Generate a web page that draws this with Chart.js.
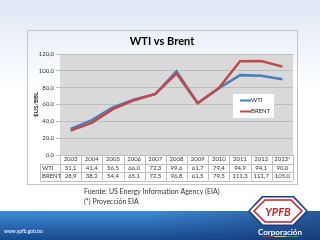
<!DOCTYPE html>
<html>
<head>
<meta charset="utf-8">
<script src="https://cdn.jsdelivr.net/npm/chart.js@4/dist/chart.umd.min.js"></script>
<style>
  html, body { margin: 0; padding: 0; background: #fff; }
  #wrap { width: 320px; height: 240px; position: relative; }
</style>
</head>
<body>
<div id="wrap"><canvas id="graph" width="320" height="240"></canvas></div>
<script>
const years = ["2003","2004","2005","2006","2007","2008","2009","2010","2011","2012","2013*"]
const wti = [31.1, 41.4, 56.5, 66.0, 72.3, 99.6, 61.7, 79.4, 94.9, 94.1, 90.0]
const brent = [28.9, 38.2, 54.4, 65.1, 72.5, 96.8, 61.5, 79.5, 111.3, 111.7, 105.0]
const yTicks = [0, 20, 40, 60, 80, 100, 120]

const FONT = "Lato, 'Open Sans', sans-serif"
const fmt = v => v.toFixed(1).replace('.', ',')

// fond de la diapo + bandeau du bas
const slide = {
    id: 'slide',
    beforeDraw(chart){
        const ctx = chart.ctx
        ctx.save()
        let g = ctx.createLinearGradient(0, 0, 0, 90)
        g.addColorStop(0, '#dde8f4')
        g.addColorStop(1, '#ffffff')
        ctx.fillStyle = g
        ctx.fillRect(0, 0, 320, 211)

        g = ctx.createLinearGradient(0, 211, 0, 240)
        g.addColorStop(0, '#3f8ad4')
        g.addColorStop(1, '#17498f')
        ctx.fillStyle = g
        ctx.fillRect(0, 211, 320, 29)
        g = ctx.createLinearGradient(150, 0, 320, 0)
        g.addColorStop(0, 'rgba(20,50,110,0)')
        g.addColorStop(1, 'rgba(20,50,110,0.55)')
        ctx.fillStyle = g
        ctx.fillRect(150, 211, 170, 29)

        // cadre du graphique
        ctx.strokeStyle = '#c6c6c6'
        ctx.lineWidth = 1
        ctx.strokeRect(27.5, 30.5, 270, 154)

        // zone de tracé
        const a = chart.chartArea
        ctx.fillStyle = '#d9d9d9'
        ctx.fillRect(a.left, a.top, a.right - a.left, a.bottom - a.top)
        ctx.restore()
    },
    afterDraw(chart){
        const ctx = chart.ctx
        const x = chart.scales.x
        const a = chart.chartArea
        ctx.save()

        // titre
        ctx.fillStyle = '#000'
        ctx.font = "bold 11px " + FONT
        ctx.textAlign = 'center'
        ctx.textBaseline = 'middle'
        ctx.fillText('WTI vs Brent', 162, 41)

        // légende
        ctx.fillStyle = '#fff'
        ctx.fillRect(233, 94, 41, 24)
        const leg = [['WTI', '#4a7ebb', 100.5], ['BRENT', '#be4b48', 111.5]]
        ctx.font = "6px " + FONT
        ctx.textAlign = 'left'
        leg.forEach(([t, c, y]) => {
            ctx.strokeStyle = c
            ctx.lineWidth = 2
            ctx.beginPath(); ctx.moveTo(240, y); ctx.lineTo(251, y); ctx.stroke()
            ctx.fillStyle = '#222'
            ctx.fillText(t, 251, y)
        })

        // tableau de données
        const colW = (a.right - a.left) / years.length
        const rows = [a.bottom, 163.5, 172, 180.5]
        ctx.strokeStyle = '#bfbfbf'
        ctx.lineWidth = 1
        ctx.beginPath()
        for (let i = 0; i <= years.length; i++){
            const cx = Math.round(a.left + i * colW) + 0.5
            ctx.moveTo(cx, rows[0]); ctx.lineTo(cx, rows[3])
        }
        ctx.moveTo(40.5, rows[1]); ctx.lineTo(40.5, rows[3])
        ctx.moveTo(a.left, rows[0] + 0.5); ctx.lineTo(a.right, rows[0] + 0.5)
        for (let r = 1; r < 4; r++){
            ctx.moveTo(40, Math.round(rows[r]) + 0.5); ctx.lineTo(a.right, Math.round(rows[r]) + 0.5)
        }
        ctx.stroke()

        ctx.fillStyle = '#333'
        ctx.font = "6px " + FONT
        ctx.textAlign = 'center'
        years.forEach((yr, i) => {
            const cx = x.getPixelForValue(i)
            ctx.fillText(yr, cx, (rows[0] + rows[1]) / 2)
            ctx.fillText(fmt(wti[i]), cx, (rows[1] + rows[2]) / 2)
            ctx.fillText(fmt(brent[i]), cx, (rows[2] + rows[3]) / 2)
        })
        ctx.textAlign = 'left'
        ctx.fillText('WTI', 42, (rows[1] + rows[2]) / 2)
        ctx.fillText('BRENT', 42, (rows[2] + rows[3]) / 2)

        // sources
        ctx.fillStyle = '#333'
        ctx.font = "7px " + FONT
        ctx.fillText('Fuente: US Energy Information Agency (EIA)', 84, 192)
        ctx.fillText('(*) Proyección EIA', 84, 202)

        // pied de page
        ctx.fillStyle = '#fff'
        ctx.font = "5px " + FONT
        ctx.fillText('www.ypfb.gob.bo', 4, 231)

        // logo
        const lx = 278, ly = 211
        const shape = (w, h, k) => {
            ctx.beginPath()
            ctx.moveTo(lx - w, ly)
            ctx.lineTo(lx - w + k, ly - h)
            ctx.lineTo(lx + w - k, ly - h)
            ctx.lineTo(lx + w, ly)
            ctx.lineTo(lx + w - k, ly + h)
            ctx.lineTo(lx - w + k, ly + h)
            ctx.closePath()
        }
        ctx.fillStyle = '#1d3c78'
        shape(30, 15, 14); ctx.fill()
        ctx.fillStyle = '#fff'
        shape(28, 13.5, 13); ctx.fill()
        ctx.strokeStyle = '#c8202a'
        ctx.lineWidth = 1.5
        shape(24, 11, 11); ctx.stroke()
        ctx.fillStyle = '#c8202a'
        ctx.font = "italic bold 11px " + FONT
        ctx.textAlign = 'center'
        ctx.fillText('YPFB', lx, ly + 1)
        ctx.fillStyle = '#fff'
        ctx.font = "bold 8px " + FONT
        ctx.fillText('Corporación', 280, 232)
        const bars = ['#d7262e', '#f2c318', '#2f9a45']
        bars.forEach((c, i) => {
            ctx.fillStyle = c
            ctx.fillRect(262 + i * 12, 236, 12, 1)
        })
        ctx.restore()
    }
}

const config = {
    type: 'line',
    data: {
        labels: years,
        datasets: [{
            label: 'WTI',
            data: wti,
            borderColor: '#4a7ebb',
            borderWidth: 2.5,
            pointRadius: 0,
            tension: 0,
            order: 1
        },{
            label: 'BRENT',
            data: brent,
            borderColor: '#be4b48',
            borderWidth: 2.5,
            pointRadius: 0,
            tension: 0,
            order: 0
        }]
    },
    options: {
        responsive: false,
        animation: false,
        layout: { padding: { left: 27, right: 27, top: 54, bottom: 85 } },
        plugins: {
            legend: { display: false },
            title: { display: false },
            tooltip: { enabled: false }
        },
        scales: {
            x: { display: false, offset: true },
            y: {
                min: 0, max: 120,
                afterBuildTicks: s => { s.ticks = yTicks.map(v => ({ value: v })) },
                afterFit: s => { s.width = 33 },
                border: { display: false },
                grid: { color: '#bdbdbd', tickLength: 4, lineWidth: 1 },
                ticks: {
                    color: '#333',
                    padding: 2,
                    font: { family: FONT, size: 6 },
                    callback: v => fmt(v)
                },
                title: {
                    display: true,
                    text: '$US/BBL',
                    color: '#222',
                    padding: { top: 5, bottom: 0 },
                    font: { family: FONT, size: 6, weight: 'bold' }
                }
            }
        }
    },
    plugins: [slide]
}

new Chart(document.getElementById('graph'), config)
</script>
</body>
</html>
